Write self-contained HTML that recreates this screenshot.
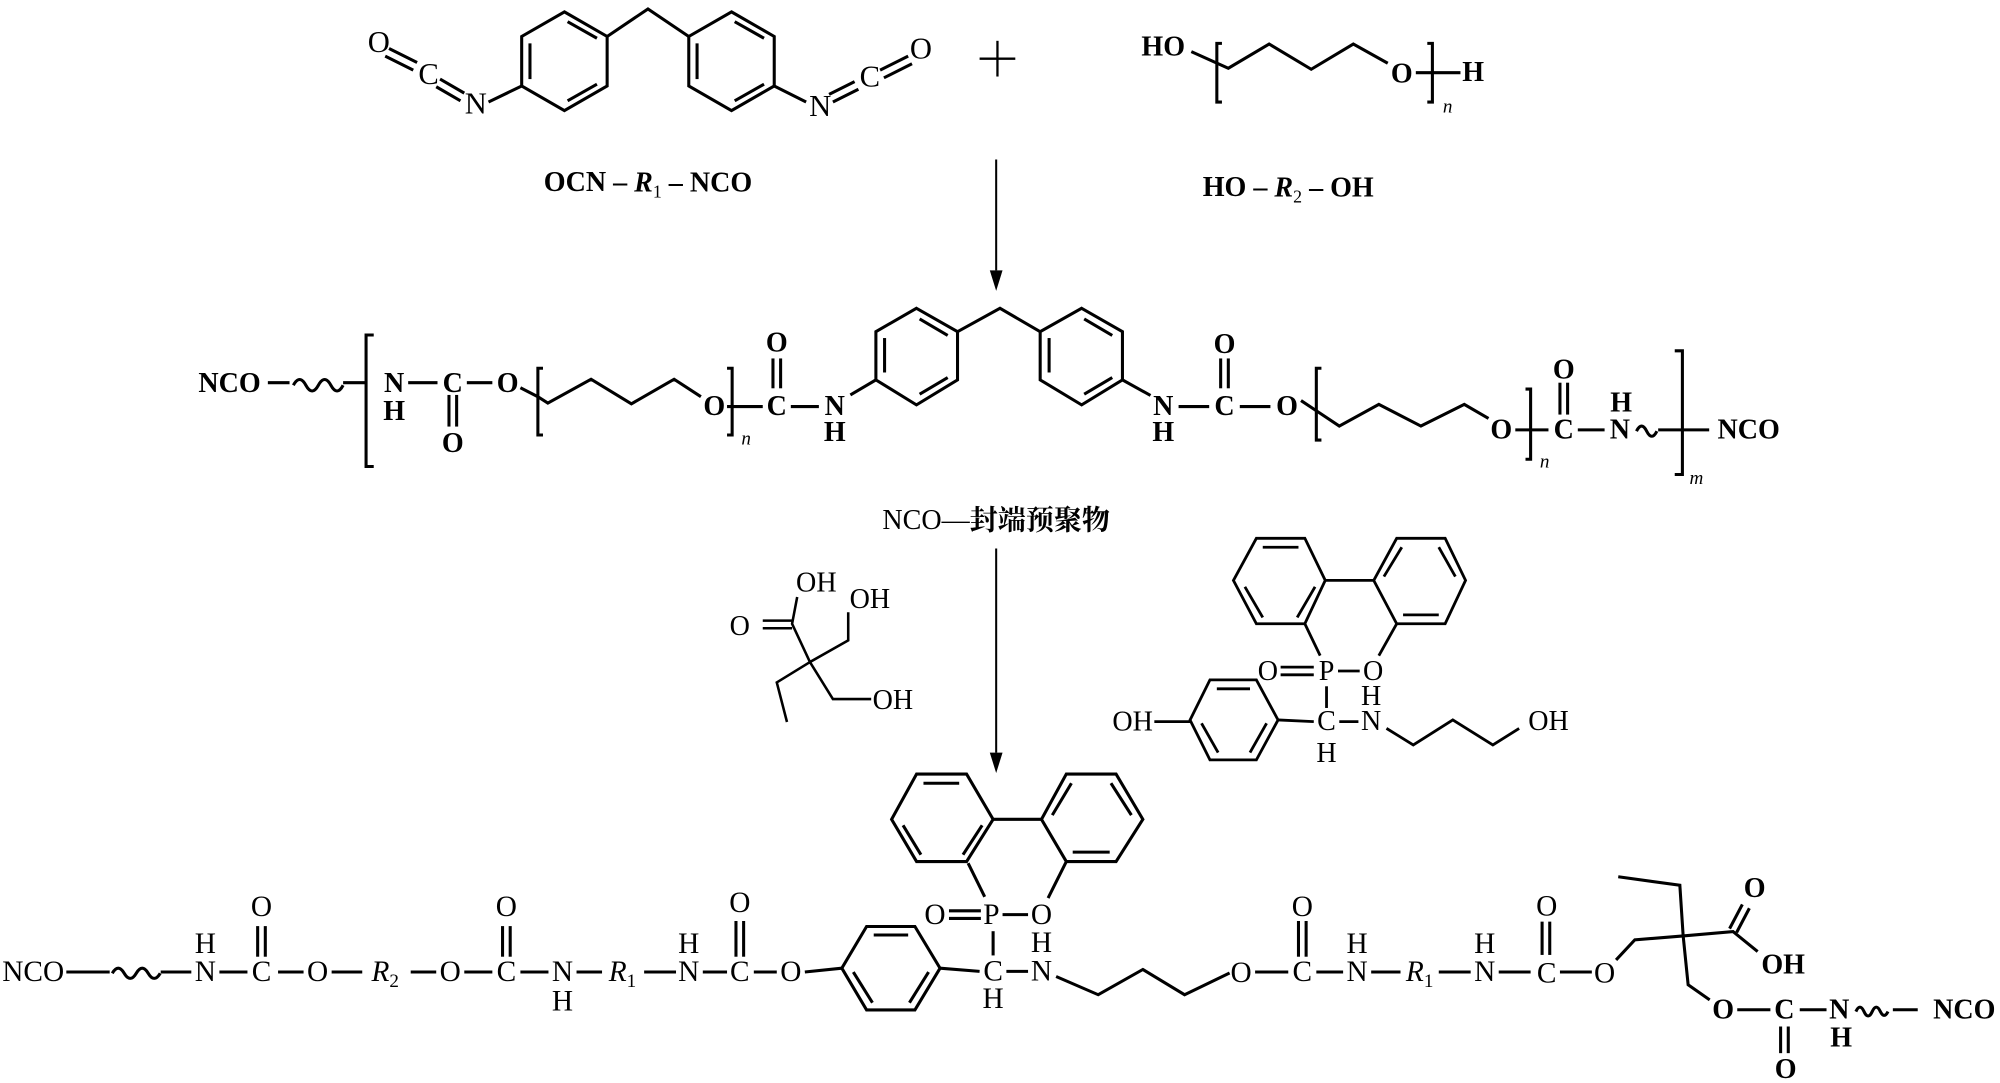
<!DOCTYPE html>
<html><head><meta charset="utf-8"><style>
html,body{margin:0;padding:0;background:#fff;}
svg{display:block;}
text{font-family:"Liberation Serif","Noto Serif CJK SC","Noto Sans CJK SC",serif;fill:#000;}
.b{font-weight:bold;}
</style></head><body>
<svg width="2000" height="1083" viewBox="0 0 1568 849" preserveAspectRatio="none" xmlns="http://www.w3.org/2000/svg">
<g fill="none" stroke="#000" stroke-width="2.4" stroke-linejoin="miter" stroke-linecap="butt">
<polygon points="442.5,9.3 476,28.6 476,67.4 442.5,86.7 409,67.4 409,28.6"/>
<line x1="415.5" y1="34" x2="415.5" y2="62"/><line x1="445" y1="17" x2="468" y2="30"/><line x1="445" y1="79" x2="468" y2="66"/>
<polygon points="573.5,9.3 607,28.6 607,67.4 573.5,86.7 540,67.4 540,28.6"/>
<line x1="546.5" y1="34" x2="546.5" y2="62"/><line x1="576" y1="17" x2="599" y2="30"/><line x1="576" y1="79" x2="599" y2="66"/>
<polyline points="476,28.6 508,7 540,28.6"/>
<line x1="409" y1="67.4" x2="383" y2="80"/>
<line x1="607" y1="67.4" x2="632" y2="80"/>
<line x1="305" y1="38" x2="327" y2="49"/><line x1="302" y1="44" x2="324" y2="55"/>
<line x1="345" y1="62" x2="364" y2="73"/><line x1="342" y1="68" x2="361" y2="79"/>
<line x1="650" y1="74" x2="670" y2="64"/><line x1="653" y1="80" x2="673" y2="70"/>
<line x1="690" y1="55" x2="712" y2="44"/><line x1="693" y1="61" x2="715" y2="50"/>
<line x1="768" y1="46" x2="796" y2="46" stroke-width="1.8"/><line x1="782" y1="32" x2="782" y2="60" stroke-width="1.8"/>
<polyline points="934,40.5 963,53.5 995,34.5 1028,54.3 1061,34.5 1088,49.6"/>
<polyline points="958,34 954,34 954,80 958,80"/>
<polyline points="1119,34 1123,34 1123,80 1119,80"/>
<line x1="1110" y1="57" x2="1145" y2="57"/>
<line x1="781" y1="125" x2="781" y2="212" stroke-width="1.6"/>
<line x1="210" y1="300" x2="227" y2="300"/>
<path d="M230,302 q4.9,-9 9.8,0 q4.9,9 9.8,0 q4.9,-9 9.8,0 q4.9,9 9.6,0"/>
<line x1="269" y1="300" x2="287" y2="300"/>
<polyline points="293,262.6 287,262.6 287,365.7 293,365.7"/>
<line x1="320" y1="300" x2="343" y2="300"/>
<line x1="352" y1="309.6" x2="352" y2="334.4"/><line x1="358" y1="309.6" x2="358" y2="334.4"/>
<line x1="366" y1="300" x2="386" y2="300"/>
<polyline points="408,304 421.7,311 429.5,316 463.4,297.3 495,316.6 528.5,297.3 549.5,311"/>
<polyline points="425.7,288.7 421.7,288.7 421.7,341 425.7,341"/>
<polyline points="570,288.7 574,288.7 574,341 570,341"/>
<line x1="570" y1="318.7" x2="598" y2="318.7"/>
<line x1="606" y1="281" x2="606" y2="304.4"/><line x1="612" y1="281" x2="612" y2="304.4"/>
<line x1="620" y1="318.7" x2="642" y2="318.7"/>
<line x1="666.7" y1="309.6" x2="686.7" y2="297.8"/>
<polygon points="718.5,241.7 750.7,260 750.7,297.8 718.5,317.4 686.7,297.8 686.7,260"/>
<line x1="693.5" y1="265" x2="693.5" y2="292"/><line x1="721" y1="250" x2="743" y2="263"/><line x1="721" y1="309" x2="743" y2="296"/>
<polyline points="750.7,260 784,241.7 815.5,260"/>
<polygon points="848,241.7 880,260 880,297.8 848,317.4 815.5,297.8 815.5,260"/>
<line x1="822.5" y1="265" x2="822.5" y2="292"/><line x1="850" y1="250" x2="872" y2="263"/><line x1="850" y1="309" x2="872" y2="296"/>
<line x1="880" y1="297.8" x2="902" y2="310"/>
<line x1="924" y1="318.7" x2="948" y2="318.7"/>
<line x1="957" y1="281" x2="957" y2="304.4"/><line x1="963" y1="281" x2="963" y2="304.4"/>
<line x1="972" y1="318.7" x2="996" y2="318.7"/>
<polyline points="1020,314 1032,322 1050,334 1081,317 1114,334 1148,317 1167,328"/>
<polyline points="1036,288.7 1032,288.7 1032,345 1036,345"/>
<polyline points="1196,305 1200,305 1200,360 1196,360"/>
<line x1="1188" y1="337" x2="1214" y2="337"/>
<line x1="1223" y1="300" x2="1223" y2="325"/><line x1="1229" y1="300" x2="1229" y2="325"/>
<line x1="1237" y1="337" x2="1258" y2="337"/>
<path d="M1283,338 q4,-8 8,0 q4,8 8,0"/>
<line x1="1300" y1="337" x2="1319" y2="337"/>
<polyline points="1313,275 1319,275 1319,372 1313,372"/>
<line x1="1319" y1="337" x2="1340" y2="337"/>
<line x1="781" y1="430" x2="781" y2="590" stroke-width="1.6"/>
<line x1="598" y1="486.5" x2="621" y2="486.5" stroke-width="2"/><line x1="598" y1="492.5" x2="621" y2="492.5" stroke-width="2"/>
<polyline points="625,468 621,489 635,519 665,502 665,480" stroke-width="2"/>
<polyline points="635,519 609,535 617,566" stroke-width="2"/>
<polyline points="635,519 653,548 683,548" stroke-width="2"/>
<polygon points="967,455 985,422 1023,422 1039,455 1023,489 985,489" stroke-width="2.2"/>
<line x1="990" y1="429" x2="1018" y2="429" stroke-width="2.2"/><line x1="976" y1="460" x2="990" y2="484" stroke-width="2.2"/><line x1="1031" y1="460" x2="1017" y2="484" stroke-width="2.2"/>
<polygon points="1077,455 1095,422 1133,422 1149,455 1133,489 1095,489" stroke-width="2.2"/>
<line x1="1085" y1="452" x2="1099" y2="429" stroke-width="2.2"/><line x1="1141" y1="452" x2="1128" y2="429" stroke-width="2.2"/><line x1="1100" y1="482" x2="1128" y2="482" stroke-width="2.2"/>
<line x1="1039" y1="455" x2="1077" y2="455" stroke-width="2.2"/>
<line x1="1023" y1="489" x2="1035" y2="514" stroke-width="2.2"/>
<line x1="1095" y1="489" x2="1081" y2="514" stroke-width="2.2"/>
<line x1="1004" y1="523" x2="1030" y2="523" stroke-width="2.2"/><line x1="1004" y1="529" x2="1030" y2="529" stroke-width="2.2"/>
<line x1="1049" y1="526" x2="1066" y2="526" stroke-width="2.2"/>
<line x1="1040" y1="538" x2="1040" y2="555" stroke-width="2.2"/>
<polygon points="933,564.4 948.6,533 985,533 1002,564.4 985,595.7 948.6,595.7" stroke-width="2.2"/>
<line x1="954" y1="540" x2="980" y2="540" stroke-width="2.2"/><line x1="942" y1="567" x2="955" y2="590" stroke-width="2.2"/><line x1="993" y1="567" x2="980" y2="590" stroke-width="2.2"/>
<line x1="905" y1="565.7" x2="933" y2="565.7" stroke-width="2.2"/>
<line x1="1002" y1="564.4" x2="1030" y2="565.7" stroke-width="2.2"/>
<line x1="1050" y1="565.7" x2="1065" y2="565.7" stroke-width="2.2"/>
<polyline points="1087,571 1108,584 1139,564.4 1170.4,584 1191,571" stroke-width="2.2"/>
<line x1="52" y1="762" x2="86" y2="762"/>
<path d="M88,763 q4.7,-8 9.4,0 q4.7,8 9.4,0 q4.7,-8 9.4,0 q4.7,8 9.4,0"/>
<line x1="126" y1="762" x2="150" y2="762"/>
<line x1="172" y1="762" x2="194" y2="762"/>
<line x1="202" y1="726" x2="202" y2="750"/><line x1="208" y1="726" x2="208" y2="750"/>
<line x1="218" y1="762" x2="238" y2="762"/>
<line x1="260" y1="762" x2="284" y2="762"/>
<line x1="322" y1="762" x2="342" y2="762"/>
<line x1="364" y1="762" x2="386" y2="762"/>
<line x1="394" y1="726" x2="394" y2="750"/><line x1="400" y1="726" x2="400" y2="750"/>
<line x1="408" y1="762" x2="430" y2="762"/>
<line x1="452" y1="762" x2="472" y2="762"/>
<line x1="505" y1="762" x2="530" y2="762"/>
<line x1="551" y1="762" x2="570" y2="762"/>
<line x1="577" y1="722" x2="577" y2="750"/><line x1="583" y1="722" x2="583" y2="750"/>
<line x1="591" y1="762" x2="609" y2="762"/>
<line x1="631" y1="762" x2="660" y2="759"/>
<polygon points="660,759 679.4,726.3 717.3,726.3 737,759 717.3,791.7 679.4,791.7"/>
<line x1="685" y1="733" x2="712" y2="733"/><line x1="669" y1="762" x2="684" y2="786"/><line x1="728" y1="762" x2="713" y2="786"/>
<line x1="737" y1="759" x2="768" y2="761.5"/>
<polygon points="699,642.3 718.6,606.8 757.8,606.8 778.6,642.3 757.8,675.4 718.6,675.4"/>
<line x1="724" y1="614" x2="752" y2="614"/><line x1="708" y1="647" x2="722" y2="670"/><line x1="770" y1="647" x2="755" y2="670"/>
<polygon points="816.5,642.3 836,606.8 875,606.8 896,642.3 875,675.4 836,675.4"/>
<line x1="825" y1="639" x2="840" y2="614"/><line x1="887" y1="639" x2="871" y2="614"/><line x1="841" y1="668" x2="870" y2="668"/>
<line x1="778.6" y1="642.3" x2="816.5" y2="642.3"/>
<line x1="759" y1="676.7" x2="772" y2="703"/>
<line x1="836" y1="675.4" x2="821.7" y2="704"/>
<line x1="744" y1="714" x2="769" y2="714"/><line x1="744" y1="720" x2="769" y2="720"/>
<line x1="786" y1="717" x2="806" y2="717"/>
<line x1="778.6" y1="730" x2="778.6" y2="749"/>
<line x1="789" y1="761.5" x2="806" y2="761.5"/>
<polyline points="828,765.5 861,779.8 896,760 928.7,779.8 964,762.8"/>
<line x1="984" y1="762" x2="1010" y2="762"/>
<line x1="1018" y1="722" x2="1018" y2="750"/><line x1="1024" y1="722" x2="1024" y2="750"/>
<line x1="1032" y1="762" x2="1053" y2="762"/>
<line x1="1075" y1="762" x2="1098" y2="762"/>
<line x1="1128" y1="762" x2="1153" y2="762"/>
<line x1="1175" y1="762" x2="1200" y2="762"/>
<line x1="1209" y1="722.5" x2="1209" y2="748.6"/><line x1="1215" y1="722.5" x2="1215" y2="748.6"/>
<line x1="1223" y1="762" x2="1248" y2="762"/>
<polyline points="1267,752.5 1281.7,736.8 1319.6,733.7 1358.7,730.3 1378,746"/>
<polyline points="1268.7,687.3 1317,694 1319.6,733.7 1323.5,772 1340.4,783.8"/>
<line x1="1356" y1="728" x2="1366" y2="709"/><line x1="1361.5" y1="731" x2="1371.5" y2="712"/>
<line x1="1362" y1="791.6" x2="1388" y2="791.6"/>
<line x1="1396" y1="804.7" x2="1396" y2="825.6"/><line x1="1402" y1="804.7" x2="1402" y2="825.6"/>
<line x1="1411" y1="791.6" x2="1432" y2="791.6"/>
<path d="M1455,793 q3.2,-7 6.4,0 q3.2,7 6.4,0 q3.2,-7 6.4,0 q3,6 6,0"/>
<line x1="1484" y1="791.6" x2="1503.5" y2="791.6"/>
</g>
<polygon points="776,212 786,212 781,228" fill="#000"/>
<polygon points="776,590 786,590 781,606" fill="#000"/>

<g font-size="24" text-anchor="middle" dominant-baseline="central">
<text x="297" y="33">O</text><text x="336" y="58">C</text><text x="373" y="81">N</text>
<text x="643" y="83">N</text><text x="682" y="60">C</text><text x="722" y="38">O</text>
</g>
<g font-size="22" text-anchor="middle" dominant-baseline="central" class="b">
<text x="912" y="37">HO</text><text x="1099" y="58">O</text><text x="1155" y="57">H</text>
<text x="508" y="143">OCN – <tspan font-style="italic">R</tspan><tspan font-size="14" font-weight="normal" dy="7">1</tspan><tspan dy="-7"> – NCO</tspan></text>
<text x="1010" y="147">HO – <tspan font-style="italic">R</tspan><tspan font-size="14" font-weight="normal" dy="7">2</tspan><tspan dy="-7"> – OH</tspan></text>
<text x="180" y="300.5">NCO</text>
<text x="309" y="300.5">N</text><text x="309" y="322.7">H</text>
<text x="355" y="300.5">C</text><text x="355" y="347.5">O</text>
<text x="398" y="300.5">O</text>
<text x="560" y="318.7">O</text>
<text x="609" y="318.7">C</text><text x="609" y="269">O</text>
<text x="654.5" y="318.7">N</text><text x="654.5" y="339">H</text>
<text x="912" y="318.7">N</text><text x="912" y="339">H</text>
<text x="960" y="318.7">C</text><text x="960" y="270">O</text>
<text x="1009" y="318.7">O</text>
<text x="1177" y="337">O</text>
<text x="1226" y="337">C</text><text x="1226" y="290">O</text>
<text x="1270" y="337">N</text><text x="1271" y="316">H</text>
<text x="1371" y="337">NCO</text>
</g>
<g font-size="15" font-style="italic" text-anchor="middle" dominant-baseline="central">
<text x="1135" y="84">n</text>
<text x="585" y="344">n</text>
<text x="1211" y="362">n</text>
<text x="1330" y="375">m</text>
</g>
<g font-size="22" text-anchor="middle" dominant-baseline="central">
<text x="781" y="408">NCO—<tspan font-weight="bold">封端预聚物</tspan></text>
<text x="580" y="491">O</text>
<text x="640" y="457">OH</text>
<text x="682" y="470">OH</text>
<text x="700" y="549">OH</text>
<text x="994" y="526.6">O</text><text x="1040" y="526.6">P</text><text x="1076.5" y="526.6">O</text>
<text x="888" y="566">OH</text>
<text x="1040" y="565.7">C</text><text x="1040" y="590.5">H</text>
<text x="1075" y="565.7">N</text><text x="1075" y="546">H</text>
<text x="1214" y="565.7">OH</text>
</g>
<g font-size="23" text-anchor="middle" dominant-baseline="central">
<text x="26" y="762">NCO</text>
<text x="161" y="762">N</text><text x="161" y="740">H</text>
<text x="205" y="762">C</text><text x="205" y="711">O</text>
<text x="249" y="762">O</text>
<text x="302" y="762" font-style="italic">R<tspan font-size="15" font-style="normal" dy="7">2</tspan></text>
<text x="353" y="762">O</text>
<text x="397" y="762">C</text><text x="397" y="711">O</text>
<text x="441" y="762">N</text><text x="441" y="785">H</text>
<text x="488" y="762" font-style="italic">R<tspan font-size="15" font-style="normal" dy="7">1</tspan></text>
<text x="540" y="762">N</text><text x="540" y="740">H</text>
<text x="580" y="762">C</text><text x="580" y="708">O</text>
<text x="620" y="762">O</text>
<text x="733" y="717.2">O</text><text x="777.3" y="717.2">P</text><text x="816.5" y="717.2">O</text>
<text x="778.6" y="761.5">C</text><text x="778.6" y="783">H</text>
<text x="816.5" y="761.5">N</text><text x="816.5" y="739.4">H</text>
<text x="973" y="762.8">O</text>
<text x="1021" y="762">C</text><text x="1021" y="711">O</text>
<text x="1064" y="762">N</text><text x="1064" y="740">H</text>
<text x="1113" y="762" font-style="italic">R<tspan font-size="15" font-style="normal" dy="7">1</tspan></text>
<text x="1164" y="762">N</text><text x="1164" y="740">H</text>
<text x="1212.6" y="763">C</text><text x="1212.6" y="710.7">O</text>
<text x="1258" y="763">O</text>
</g>
<g font-size="22" text-anchor="middle" dominant-baseline="central" class="b">
<text x="1375.7" y="696.4">O</text>
<text x="1398" y="756.4">OH</text>
<text x="1351" y="791.6">O</text>
<text x="1399" y="791.6">C</text>
<text x="1400" y="838.6">O</text>
<text x="1442" y="791.6">N</text><text x="1443.5" y="813.8">H</text>
<text x="1540" y="791.6">NCO</text>
</g>
</svg>
</body></html>
